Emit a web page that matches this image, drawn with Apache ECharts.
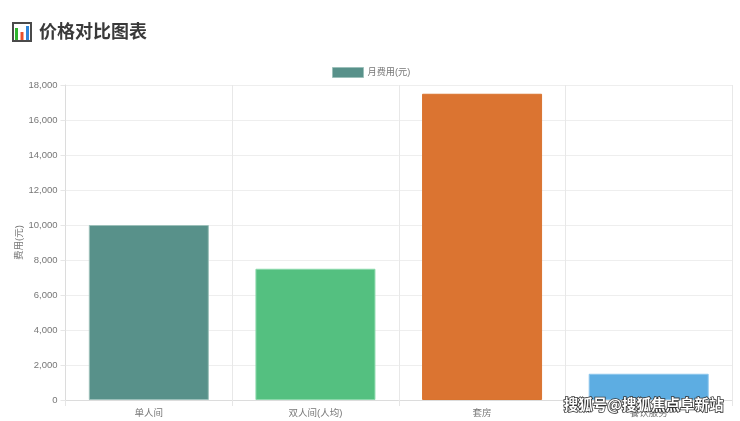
<!DOCTYPE html>
<html>
<head>
<meta charset="utf-8">
<style>html,body{margin:0;padding:0;background:#fff}#c{width:740px;height:421px}</style>
<script src="https://cdn.jsdelivr.net/npm/echarts@6/dist/echarts.min.js"></script>
</head>
<body>
<div id="c"></div>
<script>
const titleText = '价格对比图表';
const seriesName = '月费用(元)';
const yAxisName = '费用(元)';
const watermark = '搜狐号@搜狐焦点阜新站';
const categories = ['单人间', '双人间(人均)', '套房', '餐饮服务'];
const values = [10000, 7500, 17500, 1500];
const barColors = ['#58918a', '#54c080', '#db7431', '#5dade2'];
const borderColors = ['#9cc0ba', '#8bd8aa', '#d9742f', '#8cc6ec'];
const font = '"Liberation Sans","Noto Sans CJK SC",sans-serif';
const chart = echarts.init(document.getElementById('c'), null, {renderer:'canvas'});
chart.setOption({
  backgroundColor:'#fff',
  animation:false,
  title:{text:titleText,left:39,top:22,padding:0,textStyle:{fontSize:18,fontWeight:'bold',color:'#3a3a3a',fontFamily:'"Noto Sans CJK SC",sans-serif'}},
  legend:{
    top:67,left:332,itemWidth:31,itemHeight:10,itemGap:5,padding:0,
    data:[{name:seriesName,icon:'rect',itemStyle:{color:barColors[0],borderColor:borderColors[0],borderWidth:1}}],
    textStyle:{fontSize:9.2,color:'#777',fontFamily:font,padding:[1,0,0,-1]}
  },
  grid:{left:65.5,right:8,top:85,bottom:21},
  xAxis:{
    type:'category',data:categories,
    axisLine:{lineStyle:{color:'#dcdcdc'}},
    axisTick:{show:true,length:6,lineStyle:{color:'#e6e6e6'}},
    splitLine:{show:true,lineStyle:{color:'#e8e8e8'}},
    axisLabel:{fontSize:9.5,color:'#777',margin:9,fontFamily:font}
  },
  yAxis:{
    type:'value',min:0,max:18000,interval:2000,
    name:yAxisName,nameLocation:'middle',nameGap:41,nameMoveOverlap:false,
    nameTextStyle:{fontSize:9.5,color:'#777',fontFamily:font},
    axisLine:{show:true,lineStyle:{color:'#dcdcdc'}},
    axisTick:{show:true,length:5,lineStyle:{color:'#e6e6e6'}},
    splitLine:{show:true,lineStyle:{color:'#eeeeee'}},
    axisLabel:{fontSize:9.5,color:'#777',margin:8,fontFamily:font,formatter:v=>v.toLocaleString('en-US')}
  },
  series:[{
    type:'bar',name:seriesName,barWidth:120,
    data:values.map((v,i)=>({value:v,itemStyle:{color:barColors[i],borderColor:borderColors[i],borderWidth:1}}))
  }],
  graphic:[
    {type:'group',left:12,top:22,children:[
      {type:'rect',shape:{x:1,y:1,width:18,height:18},style:{fill:'#fff',stroke:'#4a4a4a',lineWidth:2}},
      {type:'rect',shape:{x:3,y:6,width:3,height:12},style:{fill:'#2fb52f'}},
      {type:'rect',shape:{x:8.5,y:10,width:3,height:8},style:{fill:'#e8502a'}},
      {type:'rect',shape:{x:14,y:4,width:3,height:14},style:{fill:'#2f86d9'}}
    ]},
    {type:'text',left:563,top:396,z:100,style:{text:watermark,fontSize:14.5,fontWeight:'bold',fill:'#fff',stroke:'#333',lineWidth:1.6,fontFamily:'"Noto Sans CJK SC",sans-serif'}}
  ]
});
</script>
</body>
</html>
